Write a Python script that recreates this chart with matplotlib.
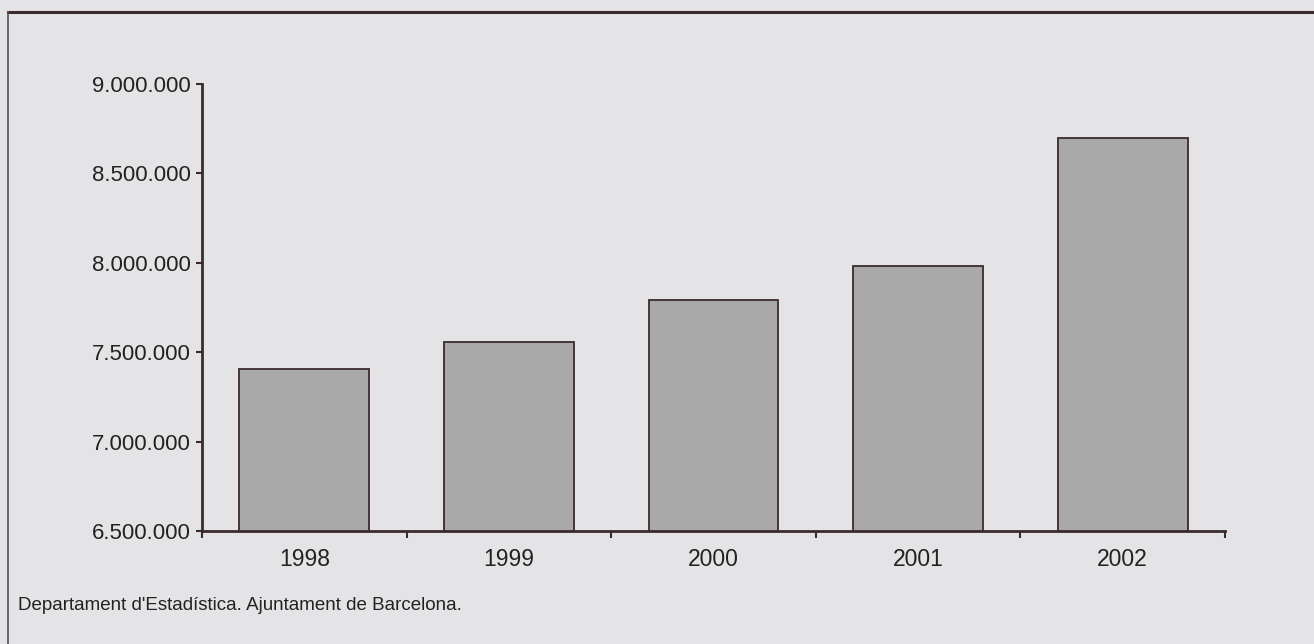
import numpy as np
import matplotlib
matplotlib.use("Agg")
import matplotlib.pyplot as plt
from matplotlib.lines import Line2D
from matplotlib.ticker import FuncFormatter

years = ["1998", "1999", "2000", "2001", "2002"]
values = [7406000, 7557000, 7790000, 7980000, 8700000]
y_ticks = [6500000, 7000000, 7500000, 8000000, 8500000, 9000000]
source = "Departament d'Estadística. Ajuntament de Barcelona."

paper = "#e4e4e6"
ink = "#3a2a2e"

plt.rcParams['font.family'] = ['Liberation Sans', 'DejaVu Sans']

fig = plt.figure(figsize=(13.14, 6.44), dpi=100, facecolor=paper)
ax = fig.add_axes([0.1537, 0.1755, 0.7786, 0.694])
ax.set_facecolor(paper)

x = np.arange(len(years)) + 0.5
ax.bar(x, values, width=0.635, bottom=0, color="#a9a9aa", edgecolor=ink, linewidth=1.3)

ax.set_xlim(0, len(years))
ax.set_ylim(y_ticks[0], y_ticks[-1])
ax.set_yticks(y_ticks)
ax.yaxis.set_major_formatter(FuncFormatter(lambda v, p: f"{int(v):,}".replace(",", ".")))

# category labels centered, ticks on the boundaries
ax.set_xticks(np.arange(len(years) + 1))
ax.set_xticklabels([])
ax.set_xticks(x, minor=True)
ax.set_xticklabels(years, minor=True)
ax.tick_params(axis="x", which="minor", length=0, pad=12, labelsize=16.5, labelcolor="#222222")
ax.tick_params(axis="x", which="major", length=5, width=1.5, color=ink)
ax.tick_params(axis="y", length=4, width=1.5, color=ink, labelsize=16, labelcolor="#222222", pad=4)

for s in ["top", "right"]:
    ax.spines[s].set_visible(False)
for s in ["left", "bottom"]:
    ax.spines[s].set_color(ink)
    ax.spines[s].set_linewidth(2)

# page frame lines from the scanned report
fig.add_artist(Line2D([0.006, 1.0], [0.981, 0.981], transform=fig.transFigure, color=ink, lw=2.2))
fig.add_artist(Line2D([0.006, 0.006], [0.0, 0.981], transform=fig.transFigure, color="#555555", lw=1.2))

fig.text(0.014, 0.06, source, fontsize=13.5, color="#222222", ha="left", va="center")

fig.savefig("out.png", dpi=100, facecolor=paper)
